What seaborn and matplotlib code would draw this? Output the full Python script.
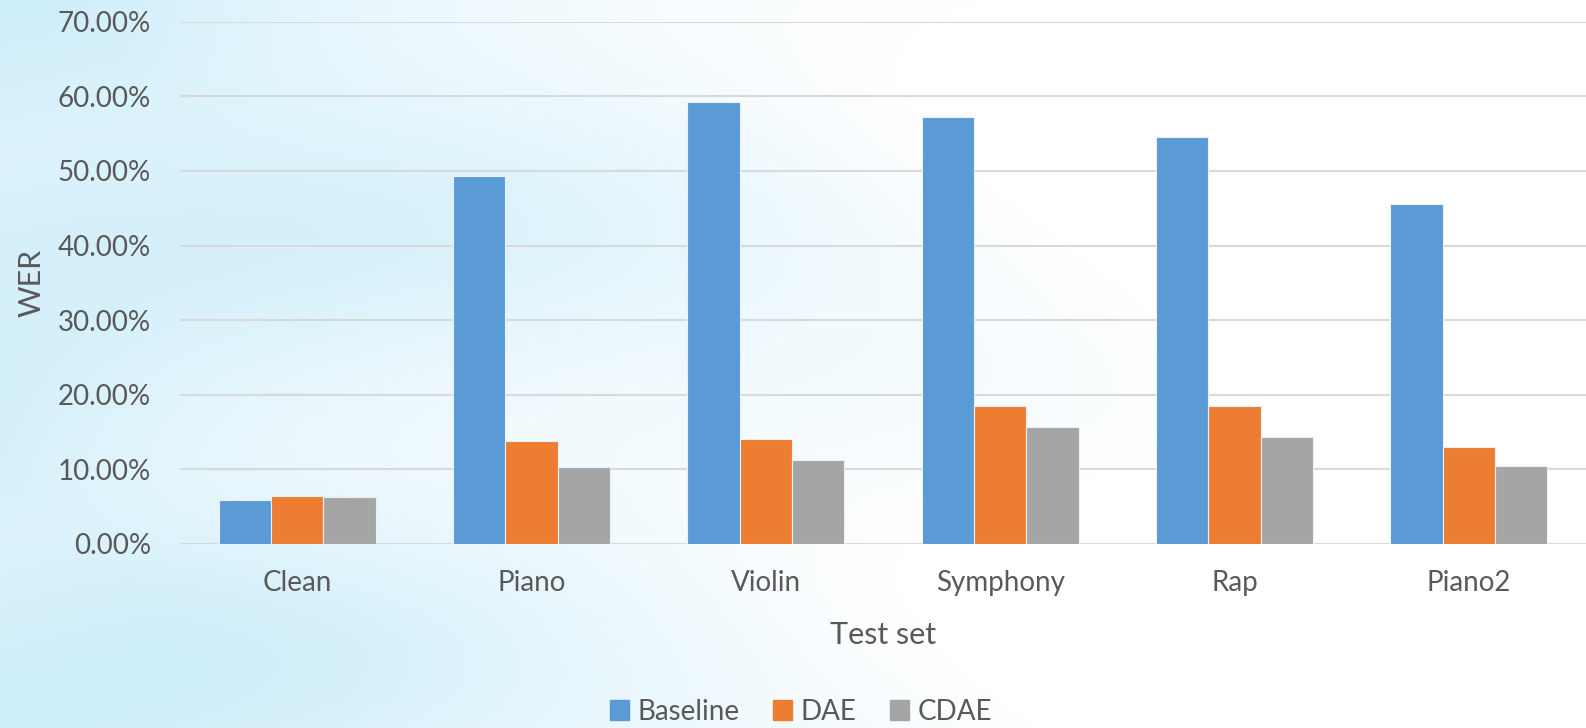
import seaborn as sns
import matplotlib.pyplot as plt
import matplotlib.ticker as mtick
import numpy as np
import pandas as pd

# data (WER, fraction)
test_sets = ['Clean', 'Piano', 'Violin', 'Symphony', 'Rap', 'Piano2']
baseline = [0.059, 0.493, 0.592, 0.572, 0.545, 0.456]
dae = [0.064, 0.137, 0.140, 0.185, 0.184, 0.129]
cdae = [0.063, 0.103, 0.112, 0.157, 0.143, 0.104]
models = ['Baseline', 'DAE', 'CDAE']
colors = ['#5B9BD5', '#ED7D31', '#A5A5A5']

df = pd.DataFrame({'Test set': test_sets * 3,
                   'WER': baseline + dae + cdae,
                   'model': [m for m in models for _ in test_sets]})

sns.set_style('white')
plt.rcParams['font.family'] = ['Lato', 'DejaVu Sans']
txt = '#595959'

fig = plt.figure(figsize=(15.86, 7.28), dpi=100)

# soft blue background, fading to white on the right
bg = fig.add_axes([0, 0, 1, 1], zorder=-1)
xx, yy = np.meshgrid(np.linspace(0, 1, 400), np.linspace(0, 1, 200))
t = np.clip(1.0 - xx * 1.5 + 0.15 * np.sin(yy * 9 + xx * 5), 0, 1)
t = t * (0.7 + 0.3 * np.cos(yy * 6 - xx * 3) ** 2)
c0 = np.array([1.0, 1.0, 1.0])
c1 = np.array([0.80, 0.93, 0.98])
img = c0 + (c1 - c0) * t[..., None]
bg.imshow(img, aspect='auto', extent=[0, 1, 0, 1], origin='lower')
bg.axis('off')

ax = fig.add_axes([0.1135, 0.2534, 0.8865, 0.7164])
ax.patch.set_alpha(0)
sns.barplot(data=df, x='Test set', y='WER', hue='model', palette=colors,
            saturation=1, width=0.67, ax=ax, edgecolor='#e8f1fa',
            linewidth=0.8, zorder=3)

ax.set_ylim(0, 0.7)
ax.set_xlim(-0.5, 5.5)
ax.yaxis.set_major_locator(mtick.MultipleLocator(0.1))
ax.yaxis.set_major_formatter(mtick.PercentFormatter(1.0, decimals=2))
ax.grid(axis='y', color='#d9d9d9', linewidth=1.5, zorder=0)
ax.set_axisbelow(True)
for s in ax.spines.values():
    s.set_visible(False)
ax.tick_params(axis='both', length=0, labelsize=20, labelcolor=txt)
ax.tick_params(axis='y', pad=21)
ax.tick_params(axis='x', pad=19)
ax.set_xlabel('Test set', fontsize=22, color=txt, labelpad=18)
ax.set_ylabel('WER', fontsize=22, color=txt, labelpad=9)

ax.legend_.remove()
handles = [plt.Rectangle((0, 0), 1, 1, color=c) for c in colors]
fig.legend(handles, models, loc='lower center', bbox_to_anchor=(0.505, -0.03),
           ncol=3, frameon=False, fontsize=20, labelcolor=txt,
           handlelength=0.7, handleheight=0.7, handletextpad=0.3,
           columnspacing=1.2)

fig.savefig('out.png', dpi=100)
